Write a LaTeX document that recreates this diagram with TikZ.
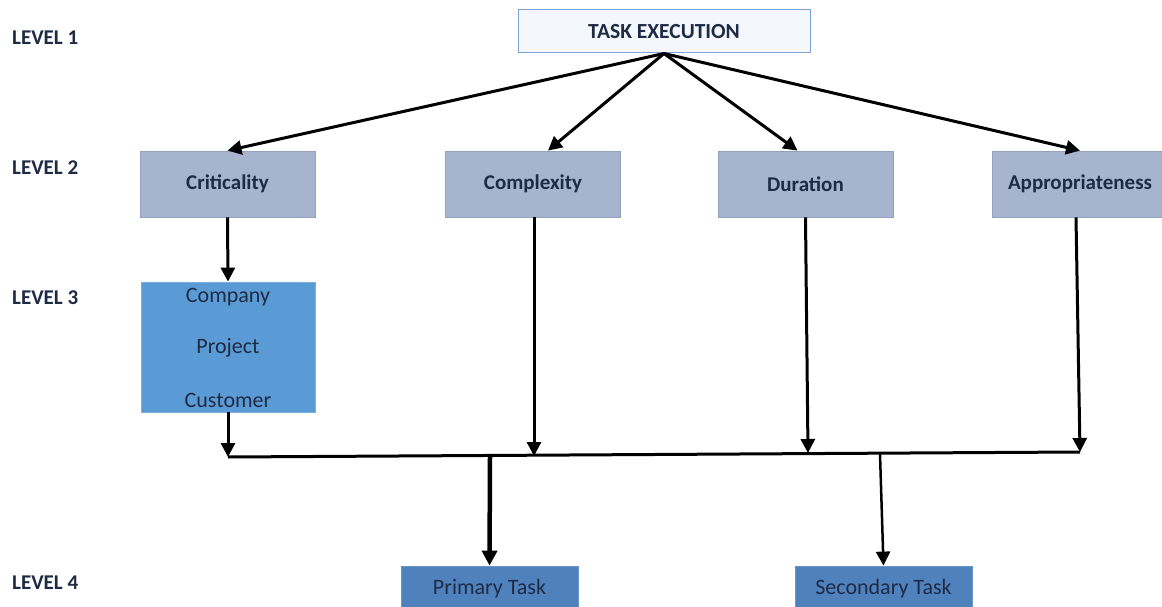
\documentclass[tikz,border=0pt]{standalone}
\usepackage{fontspec}
\setmainfont{Carlito}
\usetikzlibrary{arrows.meta,calc}
\definecolor{txt}{HTML}{1F2A44}
\definecolor{topfill}{HTML}{F4F7FC}
\definecolor{topdraw}{HTML}{7FA3D0}
\definecolor{lvtwo}{HTML}{A6B5CD}
\definecolor{lvtwod}{HTML}{93A3BF}
\definecolor{lvthree}{HTML}{5B9BD5}
\definecolor{lvfour}{HTML}{4F81BD}
\tikzset{
  lvlabel/.style={anchor=west,font=\fontsize{21}{23}\selectfont\bfseries,text=txt,inner sep=0},
  topbox/.style={draw=topdraw,fill=topfill,line width=1pt,minimum width=292pt,minimum height=43pt,font=\fontsize{21.5}{23}\selectfont\bfseries,text=txt},
  twobox/.style={draw=lvtwod,fill=lvtwo,line width=0.8pt,minimum width=175pt,minimum height=66pt,font=\fontsize{21}{23}\selectfont\bfseries,text=txt,inner sep=0},
  threebox/.style={draw=lvthree!80!white,fill=lvthree,line width=0.8pt,minimum width=174pt,minimum height=130pt,inner sep=0},
  lvtext/.style={font=\fontsize{22}{24}\selectfont,text=txt,inner sep=0},
  fourbox/.style={draw=lvfour!85!white,fill=lvfour,line width=0.8pt,minimum width=177pt,minimum height=46pt,font=\fontsize{22}{24}\selectfont,text=txt,inner sep=0},
  arr/.style={line width=3pt,-{Triangle[length=14pt,width=14pt]}},
  bus/.style={line width=3pt},
}
\begin{document}
\begin{tikzpicture}[x=1pt,y=-1pt]
\useasboundingbox (0,0) rectangle (1162,607);
% level labels
\node[lvlabel] (l1) at (12,38) {LEVEL 1};
\node[lvlabel] (l2) at (12,168) {LEVEL 2};
\node[lvlabel] (l3) at (12,298) {LEVEL 3};
\node[lvlabel] (l4) at (12,583) {LEVEL 4};
% nodes
\node[topbox] (task) at (664,31.5) {TASK EXECUTION};
\node[twobox] (crit) at (227.5,184) {Criticality};
\node[twobox] (cmp) at (533,184) {Complexity};
\node[twobox] (dur) at (805.5,184) {Duration};
\node[twobox,minimum width=176pt] (app) at (1080,184) {Appropriateness};
\node[threebox] (cpc) at (228,347) {};
\node[lvtext] (comp) at (228,297) {Company};
\node[lvtext] (proj) at (228,348) {Project};
\node[lvtext] (cust) at (228,400) {Customer};
\node[fourbox] (prim) at (489.5,589) {Primary Task};
\node[fourbox] (sec) at (883.5,589) {Secondary Task};
% bus coordinates
\coordinate (busL) at (228,457);
\coordinate (busR) at (1080,452);
\coordinate (bCmp) at (534,456);
\coordinate (bDur) at (808,453);
\coordinate (bPrim) at (490,457);
\coordinate (bSec) at (880,454);
% connectors
\draw[arr] (task.south) -- (crit.north);
\draw[arr] (task.south) -- ([xshift=15pt]cmp.north);
\draw[arr] (task.south) -- ([xshift=-8pt]dur.north);
\draw[arr] (task.south) -- (app.north);
\draw[arr] (crit.south) -- (cpc.north);
\draw[arr] (cpc.south) -- (busL);
\draw[arr] ([xshift=1pt]cmp.south) -- (bCmp);
\draw[arr] (dur.south) -- (bDur);
\draw[arr] ([xshift=-4pt]app.south) -- (busR);
\draw[bus] (busL) -- (busR);
\draw[line width=4.5pt,-{Triangle[length=15pt,width=15pt]}] (bPrim) -- (prim.north);
\draw[line width=2.5pt,-{Triangle[length=14pt,width=14pt]}] (bSec) -- (sec.north);
\end{tikzpicture}
\end{document}
